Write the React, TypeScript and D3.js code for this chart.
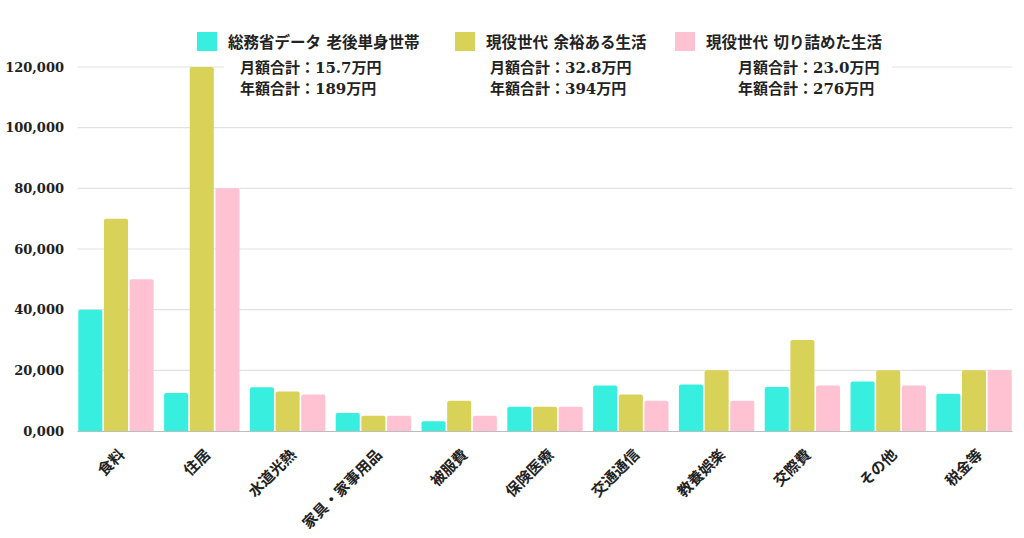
import React from "react";
import * as d3 from "d3";

const categories = ["食料", "住居", "水道光熱", "家具・家事用品", "被服費", "保険医療", "交通通信", "教養娯楽", "交際費", "その他", "税金等"];
const seriesNames = ["総務省データ 老後単身世帯", "現役世代 余裕ある生活", "現役世代 切り詰めた生活"];
const monthlyTotals = ["月額合計：15.7万円", "月額合計：32.8万円", "月額合計：23.0万円"];
const annualTotals = ["年額合計：189万円", "年額合計：394万円", "年額合計：276万円"];
const elderlySingle = [40000, 12500, 14400, 5900, 3200, 8000, 15000, 15300, 14500, 16300, 12300];
const comfortable = [70000, 120000, 13000, 5000, 10000, 8000, 12000, 20000, 30000, 20000, 20000];
const frugal = [50000, 80000, 12000, 5000, 5000, 8000, 10000, 10000, 15000, 15000, 20000];
const yTicks = [0, 20000, 40000, 60000, 80000, 100000, 120000];
const yTickLabels = ["0,000", "20,000", "40,000", "60,000", "80,000", "100,000", "120,000"];

const colors = ["#38EFDF", "#D9D259", "#FFC2D3"];
const W = 1024;
const H = 538;
const left = 77.5;
const right = 1012.5;
const bottom = 431;
const top = 67;
const FONT = "'DejaVu Serif', 'Noto Sans CJK JP', serif";

export default function App() {
  const series = [elderlySingle, comfortable, frugal];
  const x0 = d3.scaleBand<string>().domain(categories).range([left, right]).paddingInner(0.103).paddingOuter(0);
  const x1 = d3.scaleBand<number>().domain([0, 1, 2]).range([0, x0.bandwidth()]).padding(0);
  const y = d3.scaleLinear().domain([0, 120000]).range([bottom, top]);

  const legendSwatchX = [197, 455, 675];
  const legendTextX = [228, 486, 706];
  const legendLineX = [240, 490, 738];

  return (
    <svg width={W} height={H} style={{ position: "absolute", left: 0, top: 0, background: "#fff" }} fontFamily={FONT}>
      <rect x={0} y={0} width={W} height={H} fill="#fff" />
      {yTicks.map((t, i) =>
        t === 0 ? null : (
          <line key={"g" + i} x1={left} x2={right} y1={y(t)} y2={y(t)} stroke="#e2e2e2" strokeWidth={1.2} />
        )
      )}
      {yTicks.map((t, i) => (
        <text key={"yl" + i} x={64} y={y(t)} dy="0.36em" textAnchor="end" fontSize={13} fontWeight="bold" fill="#222">
          {yTickLabels[i]}
        </text>
      ))}
      {/* legend background */}
      <rect x={224} y={55} width={668} height={48} fill="#fff" />
      {categories.map((c, ci) =>
        series.map((s, si) => {
          const v = s[ci];
          const bx = (x0(c) as number) + (x1(si) as number) + 0.8;
          const bw = x1.bandwidth() - 1.6;
          const by = y(v);
          const h = bottom - by;
          const r = Math.min(2, h / 2);
          const p = `M${bx},${bottom}V${by + r}Q${bx},${by} ${bx + r},${by}H${bx + bw - r}Q${bx + bw},${by} ${bx + bw},${by + r}V${bottom}Z`;
          return <path key={c + si} d={p} fill={colors[si]} />;
        })
      )}
      <line x1={left} x2={right} y1={bottom + 0.5} y2={bottom + 0.5} stroke="#bdbdbd" strokeWidth={1.2} />
      {categories.map((c, ci) => {
        const cx = (x0(c) as number) + x0.bandwidth() / 2;
        return (
          <text
            key={"xl" + ci}
            transform={`translate(${cx + 6},${452}) rotate(-45)`}
            textAnchor="end"
            dominantBaseline="central"
            fontSize={15}
            fontWeight="bold"
            fill="#222"
          >
            {c}
          </text>
        );
      })}
      {seriesNames.map((n, i) => (
        <g key={"lg" + i}>
          <rect x={legendSwatchX[i]} y={32} width={20} height={19} fill={colors[i]} />
          <text x={legendTextX[i]} y={42} dy="0.36em" fontSize={15.5} fontWeight="bold" fill="#222">
            {n}
          </text>
          <text x={legendLineX[i]} y={68} dy="0.36em" fontSize={15} fontWeight="bold" fill="#222">
            {monthlyTotals[i]}
          </text>
          <text x={legendLineX[i]} y={89} dy="0.36em" fontSize={15} fontWeight="bold" fill="#222">
            {annualTotals[i]}
          </text>
        </g>
      ))}
    </svg>
  );
}
